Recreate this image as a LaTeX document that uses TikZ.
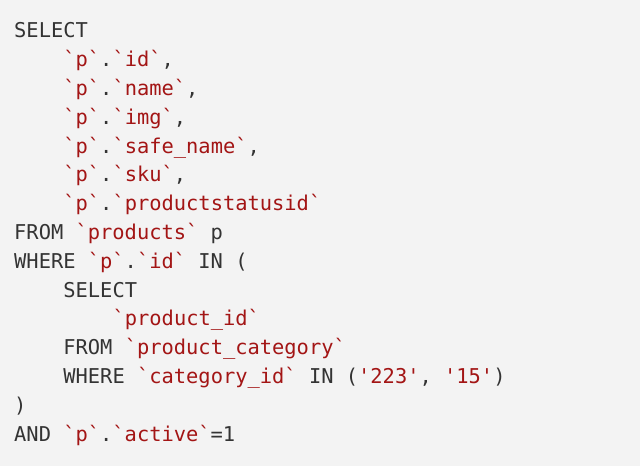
\documentclass[tikz,border=0pt]{standalone}
\usepackage{fontspec}
\newfontfamily\code{DejaVu Sans Mono}
\definecolor{bgc}{HTML}{F3F3F3}
\definecolor{idc}{HTML}{A31515}
\definecolor{txc}{HTML}{333333}
\newcommand{\bq}{\char96\relax}
\newcommand{\R}[1]{\textcolor{idc}{\bq#1\bq}}
\newcommand{\Sq}[1]{\textcolor{idc}{'#1'}}
\tikzset{ln/.style={anchor=base west,inner sep=0pt,font=\code\fontsize{20.4pt}{24pt}\selectfont,text=txc}}
\begin{document}
\begin{tikzpicture}[x=1pt,y=1pt]
\fill[bgc] (0,0) rectangle (640,466);
\useasboundingbox (0,0) rectangle (640,466);
\def\L#1#2#3{\node[ln] (#1) at ({14+12.3*#2},{466-38-28.8*#1}) {#3};}
\L{0}{0}{SELECT}
\L{1}{4}{\R{p}.\R{id},}
\L{2}{4}{\R{p}.\R{name},}
\L{3}{4}{\R{p}.\R{img},}
\L{4}{4}{\R{p}.\R{safe\_name},}
\L{5}{4}{\R{p}.\R{sku},}
\L{6}{4}{\R{p}.\R{productstatusid}}
\L{7}{0}{FROM \R{products} p}
\L{8}{0}{WHERE \R{p}.\R{id} IN (}
\L{9}{4}{SELECT}
\L{10}{8}{\R{product\_id}}
\L{11}{4}{FROM \R{product\_category}}
\L{12}{4}{WHERE \R{category\_id} IN (\Sq{223}, \Sq{15})}
\L{13}{0}{)}
\L{14}{0}{AND \R{p}.\R{active}=1}
\end{tikzpicture}
\end{document}
